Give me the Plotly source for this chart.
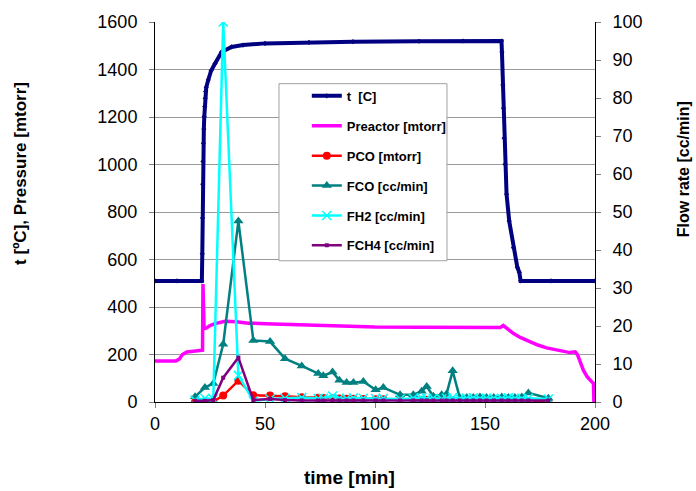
import plotly.graph_objects as go

# ---- temperature t [C] (left axis) ----
t_time = [0, 10, 21.3, 21.5, 21.6, 21.7, 21.8, 22.0, 22.2, 22.4, 22.6, 22.8, 23.0, 23.3, 24.2,
          25.5, 27.3, 30.3, 34.8, 40, 50, 70, 90, 120, 140, 157.5, 157.7, 158.1, 158.4,
          158.7, 159.1, 159.8, 161.0, 162.9, 164.7, 165.6, 166.2, 180, 200]
t_vals = [510, 510, 510, 624, 775, 917, 1013, 1090, 1149, 1202, 1244, 1279, 1307, 1325, 1356,
          1395, 1425, 1474, 1495, 1503, 1510, 1514, 1517, 1519, 1520, 1520, 1474, 1335, 1237,
          1111, 1001, 875, 762, 650, 567, 546, 510, 510, 510]

# ---- reactor pressure [mtorr] (left axis) ----
p_time = [0, 9.5, 11, 12.5, 14.5, 20.5, 21.6, 21.8, 22.3, 23.5, 25, 27.3, 31.8, 37, 42.4, 50,
          60, 70, 84, 100, 120, 140, 157, 158.3, 160, 163, 166, 170.5, 174, 178, 183, 188.6,
          191, 192, 194.7, 196.5, 198.5, 199.3, 199.5]
p_vals = [173, 173, 180, 200, 211, 216, 218, 497, 309, 312, 322, 330, 340, 338, 332, 330,
          327, 323, 318, 316, 315, 314, 314, 322, 310, 288, 272, 253, 240, 228, 218, 208,
          211, 200, 134, 105, 85, 79, 0]

# ---- gas analysis (common sampling times) ----
gas_time = [18.2, 22.7, 26.5, 31, 37.9, 44.7, 52.3, 59.1, 66.7, 74.2, 76.5, 80.7, 83.8, 87.1,
            90.2, 94.7, 100.3, 103.8, 111.4, 117.4, 121.2, 123.5, 126.5, 130.3, 132.5, 135.3,
            138.5, 141.7, 144.7, 147.7, 150.7, 154, 157.6, 160.6, 163.6, 166.7, 169.7, 178.8]
pco = [0, 0, 2, 27, 90, 28, 27, 24, 20, 18, 17, 16, 15, 14,
       14, 13, 12, 12, 10, 10, 9, 9, 8, 8, 8, 8,
       7, 7, 6, 6, 6, 5, 5, 5, 4, 4, 4, 3]
fco = [1.4, 3.8, 4.9, 15.2, 47.6, 16.2, 15.9, 11.4, 9.5, 7.5, 6.9, 7.9, 5.7, 5.1,
       5.1, 5.4, 3.2, 3.8, 1.9, 1.9, 2.8, 4.1, 1.5, 1.9, 2.1, 8.2,
       1.2, 1.2, 1.2, 1.3, 1.2, 1.2, 1.3, 1.2, 1.2, 1.3, 2.4, 1.0]
fh2 = [0.5, 1.0, 0.8, 100, 7.0, 0.3, 0.8, 1.0, 1.2, 0.9, 1.0, 1.6, 1.0, 0.9,
       1.1, 1.0, 0.9, 1.0, 0.8, 1.0, 1.1, 0.9, 1.0, 0.8, 1.0, 1.2,
       0.9, 1.0, 1.1, 0.9, 1.0, 1.0, 0.9, 1.1, 1.0, 0.9, 1.0, 0.8]
fch4 = [0.3, 0.3, 0.5, 6.4, 11.7, 0.5, 0.8, 0.5, 0.4, 0.4, 0.4, 0.4, 0.4, 0.4,
        0.4, 0.4, 0.4, 0.4, 0.4, 0.4, 0.4, 0.4, 0.4, 0.4, 0.4, 0.4,
        0.4, 0.4, 0.4, 0.4, 0.4, 0.4, 0.4, 0.4, 0.4, 0.4, 0.4, 0.4]

names = ["t  [C]", "Preactor [mtorr]", "PCO [mtorr]", "FCO [cc/min]", "FH2 [cc/min]", "FCH4 [cc/min]"]

fig = go.Figure()
fig.add_trace(go.Scatter(x=t_time, y=t_vals, name=names[0], mode="lines+markers",
                         line=dict(color="#000080", width=4),
                         marker=dict(symbol="diamond", size=4, color="#000080"),
                         legendgroup="a"))
fig.add_trace(go.Scatter(x=p_time, y=p_vals, name=names[1], mode="lines",
                         line=dict(color="#FF00FF", width=3.5), legendgroup="b"))
fig.add_trace(go.Scatter(x=gas_time, y=pco, name=names[2], mode="lines+markers",
                         line=dict(color="#FF0000", width=2.5),
                         marker=dict(symbol="circle", size=8, color="#FF0000"),
                         legendgroup="c"))
fig.add_trace(go.Scatter(x=gas_time, y=fco, name=names[3], mode="lines+markers", yaxis="y2",
                         line=dict(color="#008080", width=2.5),
                         marker=dict(symbol="triangle-up", size=9, color="#008080"),
                         legendgroup="d"))
fig.add_trace(go.Scatter(x=gas_time, y=fh2, name=names[4], mode="lines+markers", yaxis="y2",
                         line=dict(color="#00FFFF", width=2.5),
                         marker=dict(symbol="x-thin", size=9, line=dict(color="#00FFFF", width=1.5)),
                         legendgroup="e"))
fig.add_trace(go.Scatter(x=gas_time, y=fch4, name=names[5], mode="lines+markers", yaxis="y2",
                         line=dict(color="#800080", width=2.5),
                         marker=dict(symbol="square", size=4, color="#800080"),
                         legendgroup="f"))

tickfont = dict(family="Arial, Liberation Sans", size=18, color="black")
fig.update_layout(
    width=696, height=491,
    margin=dict(l=155, r=101, t=20, b=89),
    plot_bgcolor="white", paper_bgcolor="white",
    font=dict(family="Arial, Liberation Sans", color="black"),
    xaxis=dict(range=[0, 200], dtick=50, showgrid=False, zeroline=False, showline=True,
               linecolor="black", linewidth=1, ticks="outside", ticklen=5, tickcolor="#808080",
               tickfont=tickfont),
    yaxis=dict(range=[0, 1600], dtick=200, showgrid=True, gridcolor="#9a9a9a", gridwidth=1,
               zeroline=False, showline=True, linecolor="black", linewidth=1,
               ticks="outside", ticklen=5, tickcolor="#808080", tickfont=tickfont,
               ticklabelstandoff=8),
    yaxis2=dict(range=[0, 100], dtick=10, overlaying="y", side="right", showgrid=False,
                zeroline=False, showline=True, linecolor="black", linewidth=1,
                ticks="outside", ticklen=5, tickcolor="#808080", tickfont=tickfont,
                ticklabelstandoff=8),
    yaxis3=dict(range=[0, 100], dtick=10, overlaying="y", side="right", showgrid=False,
                zeroline=False, showline=False, showticklabels=False,
                ticks="inside", ticklen=7, tickcolor="#808080"),
    legend=dict(x=0.345, y=0.845, xanchor="left", yanchor="top", bgcolor="rgba(0,0,0,0)",
                borderwidth=0, font=dict(family="Arial, Liberation Sans", size=13, color="black",
                                         weight="bold"),
                tracegroupgap=10, itemwidth=30),
    shapes=[dict(type="rect", xref="paper", yref="paper", x0=0.2818, x1=0.6636,
                 y0=0.3717, y1=0.8377, line=dict(color="#a0a0a0", width=1),
                 fillcolor="white", layer="above")],
    annotations=[
        dict(text="<b>t [ºC], Pressure [mtorr]</b>", xref="paper", yref="paper",
             x=(20.7 - 155) / 440, y=(402 - 172) / 382, textangle=-90, showarrow=False,
             xanchor="center", yanchor="middle", font=dict(size=17)),
        dict(text="<b>Flow rate [cc/min]</b>", xref="paper", yref="paper",
             x=(683 - 155) / 440, y=(402 - 168) / 382, textangle=-90, showarrow=False,
             xanchor="center", yanchor="middle", font=dict(size=16)),
        dict(text="<b>time [min]</b>", xref="paper", yref="paper",
             x=(349 - 155) / 440, y=(402 - 478) / 382, showarrow=False,
             xanchor="center", yanchor="middle", font=dict(size=19)),
    ],
)
fig.write_html("out.html", config={"displayModeBar": False},
               post_script="document.body.style.margin='0';")
